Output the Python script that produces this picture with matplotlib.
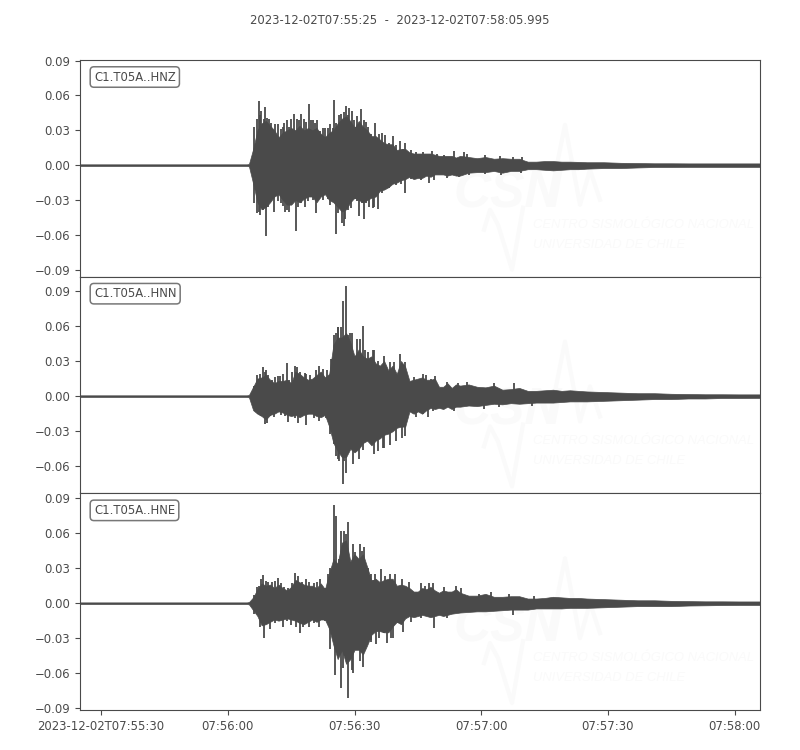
import numpy as np
import matplotlib
matplotlib.use("Agg")
import matplotlib.pyplot as plt

INK = '#4a4a4a'
WATER = '#fafafa'

# seconds after 07:55:25
t_env = [0, 39.5, 40, 41, 42, 43, 44, 45, 46, 47, 48, 49, 50, 51, 52, 53, 54, 55, 56, 57, 58, 59,
         60, 61, 62, 63, 64, 65, 66, 67, 68, 69, 70, 71, 72, 73, 74, 75, 76, 77, 78, 79,
         80, 81, 82, 83, 84, 85, 86, 87, 88, 89, 90, 92, 94, 96, 98, 100, 102, 104, 106, 108,
         110, 112, 114, 116, 118, 120, 124, 128, 132, 136, 140, 144, 148, 152, 156, 160, 161]

hnz_up = [.0007, .0007, .001, .014, .030, .036, .038, .034, .030, .024, .028, .030, .032, .030, .034, .030, .032, .030, .032, .027, .024, .028,
          .030, .036, .040, .042, .038, .032, .038, .033, .030, .025, .025, .022, .019, .018, .018, .013, .014, .014, .011, .010,
          .010, .010, .010, .010, .009, .008, .008, .008, .008, .0065, .008, .007, .006, .007, .0055, .006, .0055, .0055, .003, .003,
          .0035, .0035, .003, .003, .0028, .0025, .0025, .002, .0018, .0016, .0016, .0015, .0015, .0015, .0015, .0015, .0015]
hnz_dn = [-.0007, -.0007, -.001, -.016, -.032, -.038, -.036, -.032, -.027, -.025, -.030, -.034, -.034, -.030, -.032, -.029, -.027, -.027, -.032, -.027, -.025, -.030,
          -.032, -.036, -.040, -.038, -.032, -.028, -.030, -.032, -.030, -.028, -.027, -.022, -.021, -.019, -.016, -.015, -.013, -.012, -.010, -.012,
          -.011, -.011, -.009, -.010, -.008, -.008, -.008, -.009, -.008, -.009, -.009, -.0065, -.006, -.006, -.005, -.0065, -.005, -.005, -.0035, -.0035,
          -.004, -.0045, -.004, -.0035, -.0035, -.003, -.0025, -.0025, -.002, -.0016, -.0016, -.0015, -.0015, -.0015, -.0015, -.0015, -.0015]
hnz_spk_up_t = [42.3, 42.9, 43.9, 46.9, 49, 50.6, 52.4, 54.1, 60.2, 63, 63.8, 66.6, 69.9, 71.6, 74, 75.7, 77, 88.5,
                41.3, 41.8, 42.7, 43.5, 44.3, 44.7, 45.3, 46.1, 47.5, 48, 48.4, 49.5, 50, 51.3, 51.8, 53, 53.5, 54.6, 55.1, 55.7,
                56.1, 56.9, 57.6, 58.1, 58.7, 59.3, 59.8, 60.6, 61.3, 61.8, 62.4, 63.4, 64.3, 64.8, 65.4, 65.7, 67.2, 67.7, 68.3, 68.9,
                70.7, 72.3, 73.2, 74.8, 76.4, 78.3, 79.5, 81.1, 83.3, 84.6, 86.2, 90.9, 91.7, 95.9, 99.4, 102.4, 104.7]
hnz_spk_up = [.055, .047, .050, .035, .039, .044, .044, .053, .056, .051, .049, .048, .036, .028, .025, .021, .019, .012,
              .033, .040, .043, .040, .041, .040, .036, .035, .031, .033, .036, .033, .040, .040, .039, .040, .037, .039, .039, .036,
              .039, .029, .032, .032, .032, .035, .032, .036, .043, .044, .046, .043, .047, .039, .033, .042, .039, .037, .033, .027,
              .027, .026, .019, .017, .014, .013, .011, .011, .012, .010, .0086, .011, .010, .0086, .0077, .0066, .0066]
hnz_spk_dn_t = [42.3, 44.1, 45.9, 51.2, 55.9, 60.6, 62, 66.1, 69.7, 70.5, 77, 82.7,
                41.3, 42, 42.5, 43.3, 44.6, 45.3, 46.5, 46.9, 47.5, 48, 48.6, 49.1, 49.6, 50.4, 51.7, 52.4, 53.2, 54, 54.5, 55.1,
                56.7, 57.5, 58, 58.7, 59.3, 59.8, 61.1, 62.4, 62.8, 63.4, 64.2, 65, 65.6, 66.7, 67.2, 67.8, 68.5, 69.3,
                71.6, 73.2, 74.8, 76, 78.3, 80.7, 83.9, 87, 89.8, 92.1, 96, 99.6, 104.3]
hnz_spk_dn = [-.040, -.061, -.040, -.057, -.041, -.059, -.050, -.044, -.036, -.038, -.024, -.015,
              -.033, -.041, -.043, -.039, -.036, -.031, -.026, -.031, -.033, -.035, -.040, -.039, -.040, -.031, -.036, -.033, -.036, -.031, -.023, -.030,
              -.026, -.030, -.023, -.029, -.034, -.029, -.041, -.052, -.046, -.039, -.037, -.029, -.031, -.033, -.046, -.033, -.036, -.037,
              -.024, -.020, -.017, -.016, -.012, -.013, -.013, -.011, -.010, -.0086, -.0072, -.0086, -.0066]

hnn_up = [.0007, .0007, .001, .008, .015, .016, .018, .014, .011, .013, .013, .014, .011, .021, .019, .016, .014, .015, .018, .021, .016, .019,
          .044, .050, .050, .054, .046, .034, .040, .034, .032, .034, .028, .026, .030, .022, .026, .019, .030, .025, .013, .014,
          .015, .016, .014, .014, .015, .008, .008, .011, .007, .010, .009, .010, .008, .0075, .009, .0055, .006, .007, .0045, .0045,
          .005, .0055, .0045, .005, .0045, .004, .0035, .003, .0025, .0025, .002, .0018, .0016, .0016, .0015, .0015, .0015]
hnn_dn = [-.0007, -.0007, -.001, -.012, -.015, -.017, -.020, -.016, -.015, -.013, -.014, -.016, -.017, -.016, -.018, -.016, -.015, -.015, -.017, -.018, -.016, -.026,
          -.040, -.047, -.052, -.052, -.045, -.048, -.045, -.040, -.038, -.042, -.038, -.036, -.033, -.032, -.030, -.027, -.026, -.026, -.013, -.015,
          -.013, -.015, -.012, -.010, -.011, -.010, -.011, -.009, -.011, -.009, -.009, -.008, -.0085, -.0075, -.0065, -.007, -.006, -.0065, -.006, -.0055,
          -.0055, -.0055, -.005, -.0045, -.0045, -.0045, -.004, -.0035, -.003, -.0025, -.0025, -.002, -.002, -.0016, -.0016, -.0015, -.0015]
hnn_spk_up_t = [43.3, 48.9, 59.4, 61, 62.3, 63, 64, 66.9, 69.4, 75.7, 77,
                41.3, 42, 42.5, 43.7, 44.1, 44.6, 45.4, 46.2, 46.9, 47.3, 48, 49.5, 50.2, 50.8, 51.4, 52.2, 53.2, 53.6, 54.5, 55.9, 56.7, 57.6, 58.5,
                59.6, 60.2, 60.6, 61.2, 61.8, 63.5, 64.3, 65.1, 65.7, 66.3, 67.4, 68.1, 69.5,
                70.5, 72, 73.4, 74.4, 79.1, 81.1, 81.9, 83.1, 84.1, 87, 89.6, 91.6, 98, 102.8]
hnn_spk_up = [.025, .028, .032, .059, .081, .094, .054, .060, .039, .036, .029,
              .009, .018, .019, .021, .022, .018, .014, .016, .017, .017, .019, .014, .021, .026, .025, .021, .020, .019, .018, .022, .026, .023, .022,
              .032, .052, .054, .059, .059, .052, .054, .034, .049, .049, .039, .038, .039,
              .030, .034, .029, .029, .016, .019, .018, .015, .017, .012, .011, .012, .011, .011]
hnn_spk_dn_t = [43.7, 53.5, 61, 62.2, 63, 64.6, 66.1, 71.8, 77,
                41.3, 42.1, 42.9, 44.3, 45.1, 45.9, 46.9, 47.6, 48.6, 49.2, 50.4, 50.8, 51.6, 52.8, 54.3, 55.5, 56.7, 57.5, 58.3,
                59.3, 60.1, 60.6, 61.4, 62.6, 63.8, 65.4, 66.9, 67.7, 68.5, 69.5,
                70.5, 72, 73.4, 74.8, 76.2, 79.5, 81.1, 82.3, 83.5, 88.6, 95.7, 99.1, 107.1]
hnn_spk_dn = [-.024, -.025, -.054, -.075, -.066, -.058, -.054, -.044, -.034,
              -.011, -.015, -.017, -.023, -.017, -.018, -.013, -.016, -.017, -.022, -.013, -.019, -.023, -.016, -.015, -.019, -.021, -.013, -.019,
              -.032, -.041, -.051, -.055, -.055, -.046, -.045, -.046, -.038, -.035, -.049,
              -.047, -.044, -.042, -.038, -.036, -.018, -.015, -.018, -.013, -.013, -.011, -.009, -.008]

hne_up = [.0007, .0007, .001, .005, .012, .017, .015, .016, .013, .016, .013, .011, .014, .020, .018, .016, .015, .015, .013, .017, .012, .026,
          .038, .034, .052, .054, .036, .042, .038, .042, .031, .019, .021, .018, .020, .021, .021, .015, .016, .015, .013, .010,
          .010, .013, .012, .014, .011, .009, .011, .010, .010, .012, .009, .0065, .0065, .008, .0055, .0055, .006, .006, .004, .004,
          .0045, .0055, .005, .0045, .0045, .004, .0035, .003, .0025, .0025, .002, .0018, .0016, .0016, .0015, .0015, .0015]
hne_dn = [-.0007, -.0007, -.001, -.006, -.011, -.019, -.018, -.016, -.014, -.015, -.014, -.013, -.014, -.015, -.017, -.018, -.016, -.014, -.016, -.014, -.014, -.022,
          -.036, -.048, -.040, -.052, -.048, -.040, -.040, -.044, -.036, -.027, -.024, -.024, -.025, -.025, -.020, -.016, -.018, -.013, -.011, -.012,
          -.011, -.010, -.011, -.012, -.011, -.010, -.011, -.010, -.009, -.0085, -.008, -.0075, -.007, -.007, -.0065, -.006, -.0055, -.0055, -.0055, -.0045,
          -.0045, -.0045, -.0045, -.004, -.004, -.004, -.0035, -.003, -.0025, -.0025, -.0025, -.002, -.0018, -.0016, -.0015, -.0015, -.0015]
hne_spk_up_t = [43.3, 46.9, 50.9, 60.2, 60.7, 61.8, 63.4, 64.6, 66.3, 67.3, 71.3, 73.5, 74.6,
                41.3, 41.8, 42.3, 42.8, 44, 44.5, 45.4, 46.1, 47.6, 48.3, 49.2, 50.2, 51.6, 52.5, 53.4, 54.3, 55.4, 56.1, 56.9, 57.9, 58.7,
                59.3, 59.7, 61.3, 62.5, 63, 63.9, 65.1, 65.7, 66.7, 68.1, 69.3,
                68.9, 69.9, 72.3, 76.2, 77.8, 80.7, 81.7, 82.7, 83.6, 86.2, 89.1, 90.2, 94.5, 97.2, 101.6, 107.5]
hne_spk_up = [.024, .022, .026, .084, .075, .062, .070, .051, .051, .048, .029, .025, .025,
              .007, .014, .015, .021, .019, .018, .018, .019, .017, .014, .013, .017, .023, .018, .021, .018, .017, .018, .021, .013, .025,
              .030, .028, .038, .062, .059, .035, .044, .038, .045, .030, .020,
              .025, .025, .023, .021, .018, .017, .015, .017, .017, .014, .015, .013, .008, .0097, .008, .006]
hne_spk_dn_t = [43.5, 52, 60.4, 61.7, 63.5, 64.6, 67.1, 70, 72.6, 74.2, 83.9,
                41.3, 42.5, 42.9, 44.1, 44.9, 46.1, 47.2, 48, 49.1, 50, 51.2, 52.8, 53.5, 54.3, 55.5, 56.7, 57.9,
                59.3, 59.8, 62.3, 64.3, 65.4, 66.3, 68, 69, 69.7,
                68.9, 70.9, 72, 73.6, 75.2, 76.4, 78.3, 80.7, 87, 102.4]
hne_spk_dn = [-.030, -.026, -.062, -.073, -.081, -.060, -.055, -.035, -.034, -.030, -.021,
              -.009, -.020, -.017, -.013, -.022, -.017, -.013, -.020, -.015, -.019, -.020, -.020, -.016, -.020, -.017, -.020, -.015,
              -.039, -.030, -.056, -.057, -.039, -.050, -.030, -.033, -.025,
              -.032, -.030, -.026, -.030, -.017, -.025, -.016, -.013, -.013, -.0097]

labels = ['C1.T05A..HNZ', 'C1.T05A..HNN', 'C1.T05A..HNE']
ups = [hnz_up, hnn_up, hne_up]
dns = [hnz_dn, hnn_dn, hne_dn]
spk_up_ts = [hnz_spk_up_t, hnn_spk_up_t, hne_spk_up_t]
spk_ups = [hnz_spk_up, hnn_spk_up, hne_spk_up]
spk_dn_ts = [hnz_spk_dn_t, hnn_spk_dn_t, hne_spk_dn_t]
spk_dns = [hnz_spk_dn, hnn_spk_dn, hne_spk_dn]
ylims = [(-.096, .0905), (-.083, .102), (-.0917, .0943)]

yticks = [-.09, -.06, -.03, 0, .03, .06, .09]
xticks = [5, 35, 65, 95, 125, 155]
xticklabels = ['2023-12-02T07:55:30', '07:56:00', '07:56:30', '07:57:00', '07:57:30', '07:58:00']

# logo outline, in pixels from the panel's top left corner
wave_a_x = [470, 485, 500, 510, 520]
wave_a_y = [140, 65, 145, 110, 140]
wave_b_x = [404, 410, 418, 432, 443]
wave_b_y = [170, 150, 165, 210, 148]


def logo(ax):
    for wx, wy, lw in [(wave_a_x, wave_a_y, 3), (wave_b_x, wave_b_y, 3)]:
        ax.plot(np.array(wx) / 680, 1 - np.array(wy) / 217, color=WATER, lw=lw,
                transform=ax.transAxes, zorder=0)
    ax.text(373 / 680, 1 - 148 / 217, 'CSN', color=WATER, fontsize=37, fontweight='bold',
            style='italic', family='Liberation Sans', transform=ax.transAxes, zorder=0)
    ax.text(453 / 680, 1 - 168 / 217, 'CENTRO SISMOLÓGICO NACIONAL', color=WATER, fontsize=9.4,
            style='italic', family='Liberation Sans', transform=ax.transAxes, zorder=0)
    ax.text(453 / 680, 1 - 188 / 217, 'UNIVERSIDAD DE CHILE', color=WATER, fontsize=9.4,
            style='italic', family='Liberation Sans', transform=ax.transAxes, zorder=0)


fig, axes = plt.subplots(3, 1, sharex=True, figsize=(8, 7.5), dpi=100)
fig.subplots_adjust(left=0.1, right=0.95, top=0.92, bottom=0.0533, hspace=0)

for i, ax in enumerate(axes):
    logo(ax)
    ax.fill_between(t_env, dns[i], ups[i], color=INK, lw=0.5, zorder=2)
    ax.vlines(spk_up_ts[i], 0, spk_ups[i], color=INK, lw=1.3, zorder=2)
    ax.vlines(spk_dn_ts[i], 0, spk_dns[i], color=INK, lw=1.3, zorder=2)
    ax.set_xlim(0, 160.995)
    ax.set_yticks(yticks)
    ax.set_yticklabels(['%.2f' % v if v >= 0 else '\u2212%.2f' % -v for v in yticks])
    ax.set_ylim(ylims[i])
    ax.tick_params(axis='y', colors=INK, labelsize=8.4, width=0.8, length=3.5)
    for s in ax.spines.values():
        s.set_color(INK)
    ax.text(0.0205, 0.9215, labels[i], color=INK, fontsize=8.4, va='center', transform=ax.transAxes,
            bbox=dict(boxstyle='round,pad=0.32', fc='white', ec='#777777', lw=1.1), zorder=5)
    if i < 2:
        ax.tick_params(axis='x', length=0, labelbottom=False)

axes[2].set_xticks(xticks)
axes[2].set_xticklabels(xticklabels)
axes[2].tick_params(axis='x', colors=INK, labelsize=8.4, width=0.8, length=3.5)

fig.text(0.5, 0.9725, '2023-12-02T07:55:25  -  2023-12-02T07:58:05.995', color=INK,
         fontsize=8.4, ha='center', va='center')

fig.savefig('out.png', dpi=100)
